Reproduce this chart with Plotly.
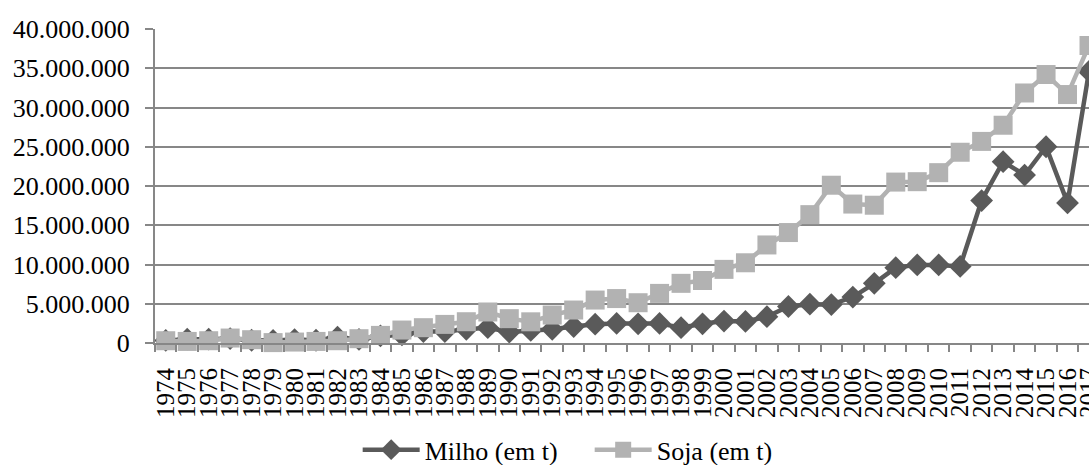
import plotly.graph_objects as go

# Years on the category axis
anos = [str(a) for a in range(1974, 2018)]

# Production in tonnes
milho = [
    320000, 480000, 480000, 570000, 350000, 320000, 440000, 350000, 740000, 450000,
    900000, 1030000, 1450000, 1450000, 1750000, 1950000, 1400000, 1600000, 1750000, 2100000,
    2400000, 2500000, 2450000, 2500000, 1950000, 2450000, 2800000, 2750000, 3350000, 4650000,
    4950000, 4900000, 5850000, 7600000, 9600000, 9950000, 9950000, 9760000, 18150000, 23100000,
    21400000, 25000000, 17850000, 34600000,
]
soja = [
    290000, 200000, 290000, 630000, 420000, 50000, 120000, 200000, 290000, 550000,
    970000, 1650000, 1950000, 2370000, 2710000, 3950000, 3100000, 2700000, 3560000, 4200000,
    5470000, 5660000, 5130000, 6320000, 7600000, 7960000, 9380000, 10220000, 12490000, 14070000,
    16350000, 20100000, 17700000, 17550000, 20500000, 20550000, 21700000, 24300000, 25680000, 27740000,
    31850000, 34200000, 31650000, 37900000,
]

SERIF = "'Liberation Serif', 'Times New Roman', Times, serif"
GRID = "#878787"
ESCURO = "#5a5a5a"
CLARO = "#b2b2b2"

fig = go.Figure()
fig.add_trace(go.Scatter(
    x=anos, y=milho, name="Milho (em t)", mode="lines+markers",
    line=dict(color=ESCURO, width=4.5),
    marker=dict(symbol="diamond", size=17.5, color=ESCURO),
    cliponaxis=False,
))
fig.add_trace(go.Scatter(
    x=anos, y=soja, name="Soja (em t)", mode="lines+markers",
    line=dict(color=CLARO, width=4.5),
    marker=dict(symbol="square", size=19, color=CLARO),
    cliponaxis=False,
))

fig.update_layout(
    width=1089, height=465,
    margin=dict(l=155, r=0, t=29, b=122, autoexpand=False),
    paper_bgcolor="white", plot_bgcolor="white",
    separators=",.",
    font=dict(family=SERIF, size=26, color="black"),
    showlegend=True,
    legend=dict(
        orientation="h", x=0.217, xanchor="left", y=-0.34, yanchor="middle",
        font=dict(family=SERIF, size=26, color="black"),
        itemwidth=57, entrywidth=160, entrywidthmode="pixels",
        bgcolor="rgba(0,0,0,0)",
    ),
)
fig.update_xaxes(
    type="category", tickmode="linear", dtick=1, tickson="boundaries",
    range=[-0.5, 43.0], automargin=False,
    tickangle=-90, tickfont=dict(family=SERIF, size=25, color="black"),
    ticks="outside", ticklen=7, tickwidth=2, tickcolor=GRID,
    ticklabelstandoff=13,
    showline=True, linecolor=GRID, linewidth=2,
    showgrid=False, zeroline=False,
)
fig.update_yaxes(
    range=[0, 40000000], tickmode="linear", tick0=0, dtick=5000000,
    automargin=False,
    tickformat=",d", tickfont=dict(family=SERIF, size=26, color="black"),
    ticks="outside", ticklen=8, tickwidth=2, tickcolor=GRID,
    ticklabelstandoff=10,
    showline=True, linecolor=GRID, linewidth=2,
    showgrid=True, gridcolor=GRID, gridwidth=2,
    zeroline=False,
)

fig.write_html("out.html")
